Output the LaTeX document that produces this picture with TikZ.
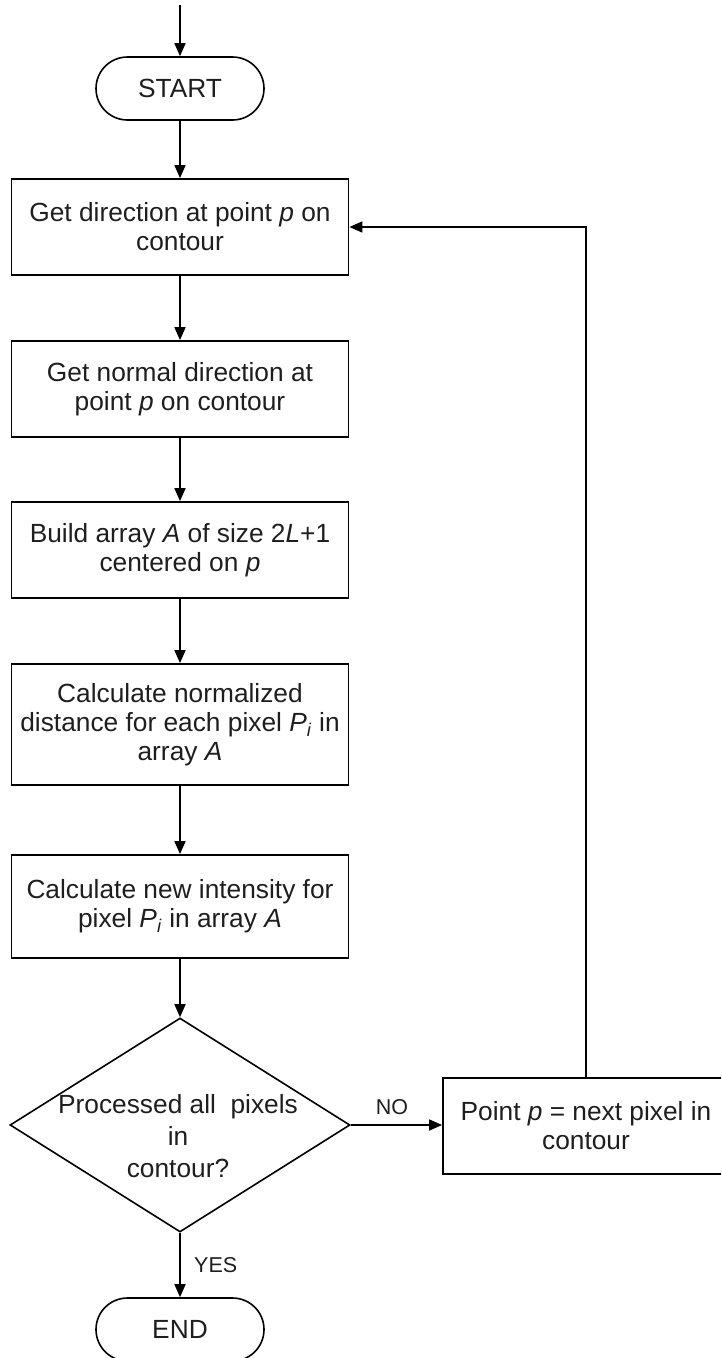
\documentclass[tikz,border=0pt]{standalone}
\usepackage{fontspec}
\setmainfont{Liberation Sans}
\usetikzlibrary{shapes.geometric,shapes.misc,arrows.meta}
\definecolor{ink}{HTML}{1E1E1E}
\begin{document}
\begin{tikzpicture}[x=1pt,y=-1pt,
  every node/.style={text=ink,font=\fontsize{26.3}{29}\selectfont},
  stepbox/.style={draw=black,line width=1.8pt,rectangle,minimum width=337pt,
    inner sep=0pt,align=center},
  terminal/.style={draw=black,line width=1.6pt,rounded rectangle,
    minimum width=168pt,minimum height=63pt,inner sep=0pt},
  decision/.style={draw=black,line width=1.6pt,diamond,minimum width=340pt,
    minimum height=214pt,inner sep=0pt},
  flow/.style={line width=1.7pt,draw=black,-{Triangle[length=13pt,width=11pt]}},
  edgelabel/.style={font=\fontsize{21.5}{24}\selectfont}]
\clip (0,0) rectangle (721,1358);

% start terminal and incoming lead
\coordinate (lead) at (180,5);
\node[terminal] (start) at (180,88.5) {START};

% main processing steps
\node[stepbox,minimum height=96pt] (s1) at (180,227)
  {Get direction at point \textit{p} on\\contour};
\node[stepbox,minimum height=96pt] (s2) at (180,389)
  {Get normal direction at\\point \textit{p} on contour};
\node[stepbox,minimum height=96pt] (s3) at (180,550)
  {Build array \textit{A} of size 2\textit{L}+1\\centered on \textit{p}};
\node[stepbox,minimum height=121pt] (s4) at (180,724.5)
  {Calculate normalized\\distance for each pixel \textit{P}\textsubscript{\textit{i}} in\\array \textit{A}};
\node[stepbox,minimum height=103pt] (s5) at (180,906.5)
  {Calculate new intensity for\\pixel \textit{P}\textsubscript{\textit{i}} in array \textit{A}};

% decision
\node[decision] (dec) at (180,1125) {};
\node[align=center,inner sep=0pt,font=\fontsize{26.3}{32}\selectfont] (dectext) at (178,1136)
  {Processed all\ \ pixels\\in\\contour?};

% next pixel step
\node[stepbox,minimum width=286pt,minimum height=96pt] (next) at (586,1126)
  {Point \textit{p} = next pixel in\\contour};

% end terminal
\node[terminal] (end) at (180,1329.5) {END};

% connectors
\draw[flow] (lead) -- (start.north);
\draw[flow] (start) -- (s1);
\draw[flow] (s1) -- (s2);
\draw[flow] (s2) -- (s3);
\draw[flow] (s3) -- (s4);
\draw[flow] (s4) -- (s5);
\draw[flow] (s5.south) -- (dec.north);
\draw[flow] (dec.east) -- (dec.east -| next.west)
  node[edgelabel,pos=0.45,above=6pt] (nolabel) {NO};
\draw[flow] (next.north) |- (s1.east);
\draw[flow] (dec.south) -- (end.north)
  node[edgelabel,midway,right=10pt] (yeslabel) {YES};
\end{tikzpicture}
\end{document}
